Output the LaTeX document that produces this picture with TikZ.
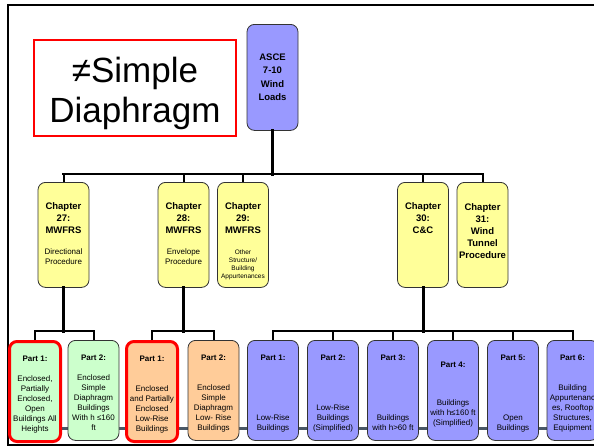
\documentclass[tikz,border=0pt]{standalone}
\usepackage{fontspec}
\setmainfont{Liberation Sans}

\definecolor{asceblue}{HTML}{9999FF}
\definecolor{chapyellow}{HTML}{FFFF99}
\definecolor{partgreen}{HTML}{CCFFCC}
\definecolor{partorange}{HTML}{FFCC99}
\definecolor{railgrey}{HTML}{4A5866}

% chapter card: bold heading on top, short description under it
\NewDocumentCommand{\chapterlabel}{O{20pt} m m}{%
  \parbox[c][105pt][t]{51pt}{\centering\vspace*{#1}%
    \fontsize{9.5}{12}\selectfont\bfseries #2\strut\par
    \vspace{11.5pt}\fontsize{8}{10}\selectfont\mdseries #3\par}}

% part card: heading on top, text pushed to the bottom
\NewDocumentCommand{\partlabel}{O{13pt} O{7pt} m m}{%
  \parbox[c][100pt][s]{51pt}{\centering\fontsize{8}{10}\selectfont
    \vspace*{#1}\textbf{#3}\strut\par\vfill
    #4\strut\par\vspace*{#2}}}

\begin{document}
\begin{tikzpicture}[x=1pt, y=-1pt,
    card/.style={draw=black!80, line width=0.8pt, rounded corners=7.5pt,
      inner sep=0pt, anchor=north},
    load/.style={card, fill=asceblue, align=center, text width=51pt,
      minimum height=106pt, font=\fontsize{9.5}{13.5}\selectfont\bfseries},
    chap/.style={card, fill=chapyellow},
    green part/.style={card, fill=partgreen},
    orange part/.style={card, fill=partorange},
    blue part/.style={card, fill=asceblue},
    marked/.style={draw=red, line width=3pt},
    trunk/.style={line width=3pt, line cap=rect},
    twig/.style={line width=2pt},
    rail/.style={line width=3pt, draw=railgrey}]

  \useasboundingbox (0,0) rectangle (594,447);

  %Slide frame
  \draw [line width=2pt] (594,5) -- (8,5) -- (8,445) -- (594,445);

  %Note
  \node (note) [draw=red, line width=2.5pt, inner sep=0pt] at (135,88) {
    \parbox[c][96pt][t]{202pt}{\centering\vspace*{14.5pt}
      \fontsize{35}{40}\selectfont ≠Simple\strut\\Diaphragm\par}};

  %Standard
  \node (asce) [load] at (272.5,24) {ASCE\\7-10\\Wind\\Loads};

  %Chapters
  \node (ch27) [chap] at (63.5,182) {
    \chapterlabel{Chapter\\27:\\MWFRS}{Directional\\Procedure}};
  \node (ch28) [chap] at (183.5,182) {
    \chapterlabel{Chapter\\28:\\MWFRS}{Envelope\\Procedure}};
  \node (ch29) [chap] at (243,182) {
    \chapterlabel{Chapter\\29:\\MWFRS}{\fontsize{6.5}{8}\selectfont
      Other\\Structure/\\Building\\Appurtenances}};
  \node (ch30) [chap] at (423,182) {
    \chapterlabel{Chapter\\30:\\C\&C}{}};
  \node (ch31) [chap] at (482.5,182) {
    \chapterlabel[21pt]{Chapter\\31:\\Wind\\Tunnel\\Procedure}{}};

  %Rail behind the parts
  \coordinate (rail) at (8,428);
  \draw [rail] (rail) -- (594,428);

  %Parts of chapter 27
  \node (p27a) [green part, marked] at (35,340) {
    \partlabel{Part 1:}{Enclosed,\\Partially\\Enclosed,\\Open\\Buildings All\\Heights}};
  \node (p27b) [green part] at (93.5,340) {
    \partlabel{Part 2:}{Enclosed\\Simple\\Diaphragm\\Buildings\\With h ≤160\\ft}};

  %Parts of chapter 28
  \node (p28a) [orange part, marked] at (152,340) {
    \partlabel{Part 1:}{Enclosed\\and Partially\\Enclosed\\Low-Rise\\Buildings}};
  \node (p28b) [orange part] at (213.5,340) {
    \partlabel{Part 2:}{Enclosed\\Simple\\Diaphragm\\Low- Rise\\Buildings}};

  %Parts of chapter 30
  \node (p30a) [blue part] at (273,340) {
    \partlabel{Part 1:}{Low-Rise\\Buildings}};
  \node (p30b) [blue part] at (333,340) {
    \partlabel{Part 2:}{Low-Rise\\Buildings\\(Simplified)}};
  \node (p30c) [blue part] at (393,340) {
    \partlabel{Part 3:}{Buildings\\with h>60 ft}};
  \node (p30d) [blue part] at (453,340) {
    \partlabel[20pt][12pt]{Part 4:}{Buildings\\with h≤160 ft\\(Simplified)}};
  \node (p30e) [blue part] at (513,340) {
    \partlabel{Part 5:}{Open\\Buildings}};
  \node (p30f) [blue part] at (572.5,340) {
    \partlabel{Part 6:}{Building\\Appurtenanc\\es, Rooftop\\Structures,\\Equipment}};

  %Standard to chapters
  \coordinate (bus) at (0,174);
  \draw [trunk] (asce.south) -- (asce.south |- bus);
  \draw [trunk, line width=2.5pt] (ch27.north |- bus) -- (ch31.north |- bus);
  \foreach \c in {ch27,ch28,ch29,ch30,ch31}
    \draw [twig] (\c.north |- bus) -- (\c.north);

  %Chapters to parts
  \coordinate (bar) at (0,331);
  \draw [trunk] (ch27.south) -- (ch27.south |- bar);
  \draw [twig] (p27a.north) -- (p27a.north |- bar) -- (p27b.north |- bar) -- (p27b.north);

  \draw [trunk] (ch28.south) -- (ch28.south |- bar);
  \draw [twig] (p28a.north) -- (p28a.north |- bar) -- (p28b.north |- bar) -- (p28b.north);

  \draw [trunk] (ch30.south) -- (ch30.south |- bar);
  \draw [twig] (p30a.north) -- (p30a.north |- bar) -- (p30f.north |- bar) -- (p30f.north);
  \foreach \p in {p30b,p30c,p30d,p30e}
    \draw [twig] (\p.north |- bar) -- (\p.north);

\end{tikzpicture}
\end{document}
